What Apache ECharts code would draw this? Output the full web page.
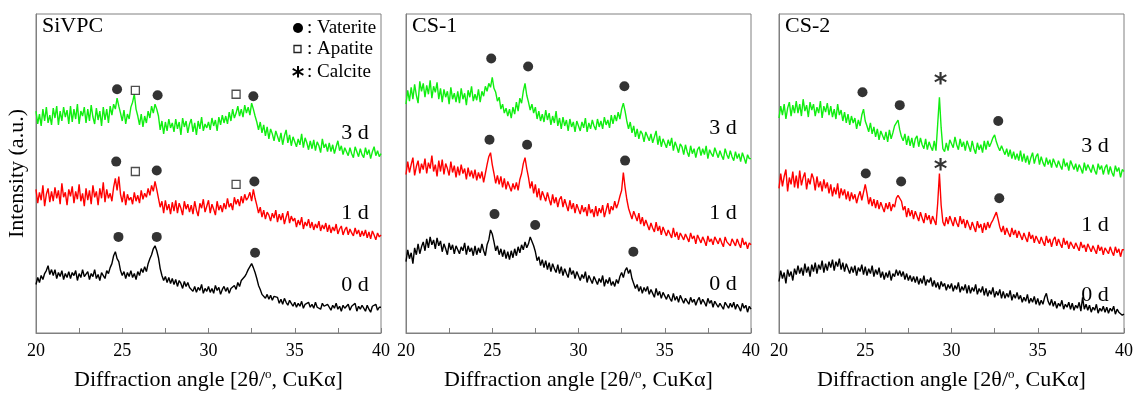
<!DOCTYPE html>
<html>
<head>
<meta charset="utf-8">
<script src="https://cdn.jsdelivr.net/npm/echarts@6/dist/echarts.min.js"></script>
<style>
html, body { margin: 0; padding: 0; background: #fff; }
#chart { width: 1143px; height: 396px; }
</style>
</head>
<body>
<div id="chart"></div>
<script>
// scan grid: 20..40 deg, step 0.1
const angleStart = 20;
const angleStep = 0.1;
const panelNames = ['SiVPC', 'CS-1', 'CS-2'];
const dayNames = ['3 d', '1 d', '0 d'];

// SiVPC
const sivpc3d = [
  224,211,221,209,226,214,228,212,220,210, 227,217,229,210,224,214,228,218,225,211,
  229,213,226,216,231,211,224,219,228,212, 226,214,230,218,211,227,215,224,209,228,
  215,226,212,229,220,231,226,237,229,222, 214,225,211,221,216,228,233,241,226,219,
  210,221,208,219,212,224,217,229,222,231, 226,219,205,214,201,213,204,216,207,212,
  203,216,206,213,200,217,208,214,202,211, 216,203,212,200,214,206,218,204,211,207,
  213,205,217,209,215,204,218,210,220,212, 219,211,223,214,226,217,222,229,219,226,
  218,230,222,228,220,232,226,219,213,205, 213,202,210,199,208,196,206,201,194,204,
  205,193,202,190,199,205,192,200,189,198, 199,188,196,190,201,187,197,192,185,194,
  186,195,184,193,189,182,196,187,191,183, 192,183,190,181,188,194,184,189,180,187,
  189,179,187,181,177,188,183,178,186,180, 177,187,180,185,176,183,188,179,184,178,
  181
];
const sivpc1d = [
  145,131,142,134,149,128,140,146,132,143, 133,147,136,144,130,151,137,142,129,145,
  138,148,131,143,135,150,133,141,128,146, 134,144,130,149,137,143,129,146,136,152,
  132,145,136,141,133,147,156,144,158,140, 132,143,129,140,134,137,130,142,133,139,
  131,144,135,141,137,146,139,149,143,153, 145,136,127,133,121,134,124,130,120,132,
  123,134,121,131,126,119,133,125,130,122, 129,120,133,124,118,131,126,135,122,128,
  134,121,130,125,119,133,124,129,122,131, 125,136,127,131,124,137,130,135,128,138,
  131,140,134,137,142,133,145,136,129,121, 127,117,124,115,122,119,113,121,116,124,
  112,120,114,121,110,117,123,111,118,113, 116,107,114,109,117,105,112,108,115,106,
  112,104,110,106,113,103,109,105,111,102, 109,101,107,103,110,100,105,108,99,104,
  107,99,105,101,98,106,100,104,97,103, 98,104,96,102,95,103,99,94,101,97,
  99
];
const sivpc0d = [
  49,56,51,58,54,60,63,68,59,64, 58,64,55,61,57,63,54,60,56,62,
  55,61,58,63,53,60,56,64,57,59, 62,54,60,57,64,55,59,53,61,58,
  55,63,60,66,70,78,82,75,72,63, 58,62,55,61,57,63,56,60,54,62,
  58,65,61,67,62,70,75,79,85,88, 83,76,65,58,53,57,51,56,50,55,
  49,54,47,53,50,45,52,47,51,46, 48,42,47,41,46,43,49,40,45,42,
  47,41,45,40,48,43,46,39,44,47, 42,46,40,45,43,48,44,51,47,53,
  52,57,60,64,67,70,66,61,55,48, 44,39,41,35,39,34,38,33,37,35,
  36,30,34,29,35,31,28,33,30,27, 31,26,30,27,32,25,29,27,31,26,
  29,25,31,26,28,24,30,27,25,29, 27,23,28,25,30,24,27,22,28,25,
  24,29,23,27,25,30,22,27,24,28, 26,22,28,24,21,27,25,29,23,26,
  26
];

// CS-1
const cs1_3d = [
  231,245,234,248,236,251,240,232,254,244, 252,238,250,241,255,237,249,243,253,236,
  247,233,246,238,244,231,248,236,242,233, 244,232,247,236,242,230,245,238,249,234,
  241,235,246,233,244,239,249,244,252,248, 258,247,243,234,238,226,231,222,227,219,
  226,217,228,221,233,224,237,232,244,252, 240,233,225,231,222,228,216,224,214,221,
  213,225,215,222,210,219,212,224,209,217, 206,218,209,215,204,216,208,213,203,214,
  216,204,213,207,217,203,212,206,215,209, 205,216,208,214,206,218,210,215,207,220,
  211,220,214,223,216,226,232,224,214,206, 213,202,209,198,206,196,204,201,193,203,
  204,194,201,192,198,204,190,199,188,196, 198,187,195,189,197,184,193,188,182,191,
  188,180,190,183,178,189,181,186,177,185, 188,179,186,180,189,176,185,181,178,187,
  185,177,184,179,175,186,180,176,184,178, 174,183,176,181,173,182,177,171,180,176,
  176
];
const cs1_1d = [
  160,173,162,170,177,159,168,174,161,171, 165,176,161,172,166,179,163,170,158,174,
  163,175,160,171,166,159,173,162,169,157, 168,159,170,161,166,155,167,158,164,156,
  165,154,162,156,163,152,161,170,178,182, 170,161,151,159,150,158,147,156,145,153,
  154,143,151,145,152,144,155,161,171,177, 166,157,146,153,141,150,137,146,134,143,
  144,133,142,135,129,140,131,137,127,135, 138,127,135,129,123,134,125,131,121,130,
  131,120,129,122,127,118,130,121,125,117, 128,118,126,121,129,117,124,131,120,128,
  124,133,126,131,138,144,162,147,135,126, 127,115,123,118,113,121,110,117,108,114,
  113,104,111,106,102,112,103,108,99,107, 107,98,104,100,96,106,97,102,94,101,
  103,94,100,96,92,101,95,98,90,99, 100,91,97,93,88,98,92,95,89,97,
  98,90,96,91,87,97,92,94,88,95, 97,88,95,90,86,96,89,92,85,91,
  89
];
const cs1_0d = [
  72,84,75,81,70,86,79,90,80,87, 92,83,95,86,97,89,94,85,96,88,
  93,82,90,85,79,91,84,89,80,88, 90,80,87,83,91,79,88,82,86,78,
  88,79,86,81,90,83,78,89,94,104, 100,92,83,88,79,85,77,84,75,82,
  74,83,76,85,78,87,81,89,84,92, 86,90,97,99,88,82,73,77,68,74,
  66,73,64,71,62,70,65,61,69,60, 67,58,65,60,56,66,59,63,55,62,
  61,53,59,55,62,51,58,54,50,57, 57,49,55,51,58,47,54,50,56,48,
  52,47,54,50,57,61,56,63,66,60, 64,55,50,45,49,42,47,40,46,42,
  47,39,44,40,36,45,38,42,35,41, 41,34,39,35,32,40,33,37,31,38,
  37,30,35,32,29,36,31,34,28,33, 36,29,34,31,27,35,30,33,26,32,
  32,26,30,27,24,31,28,25,30,26, 31,24,29,26,22,30,25,28,21,27,
  24
];

// CS-2
const cs2_3d = [
  217,229,220,231,216,227,233,219,230,222, 234,222,231,219,236,224,230,218,233,225,
  231,219,228,222,234,217,229,223,232,220, 229,218,226,216,231,220,225,214,223,212,
  221,210,219,212,217,206,215,209,220,226, 214,209,203,212,201,208,198,206,195,204,
  206,195,203,193,205,196,202,209,211,215, 205,198,194,201,190,199,189,197,187,196,
  199,188,197,190,186,196,185,193,188,184, 194,184,211,238,207,186,183,192,184,195,
  197,187,198,190,185,196,188,193,184,194, 193,183,194,186,181,192,185,190,182,194,
  185,194,188,192,197,200,193,188,184,189, 190,180,186,178,185,176,183,175,181,174,
  184,173,181,172,179,170,177,182,171,178, 181,170,178,172,168,177,170,175,167,176,
  177,167,174,169,165,176,168,172,164,174, 173,165,171,163,170,166,161,172,164,170,
  172,162,170,164,160,171,165,169,160,167, 170,160,168,162,158,169,163,167,157,165,
  163
];
const cs2_1d = [
  146,161,148,158,165,143,157,150,163,147, 159,146,164,149,157,162,145,156,150,161,
  156,144,158,147,153,143,155,146,152,141, 150,138,147,140,151,136,146,139,145,135,
  143,133,142,135,140,131,138,143,134,142, 150,141,130,137,128,135,126,134,125,132,
  133,122,131,125,132,123,130,127,136,139, 138,133,124,128,117,126,118,124,115,123,
  124,113,122,116,111,121,114,119,110,118, 117,109,131,161,129,112,108,117,110,118,
  118,108,117,111,107,118,110,115,106,114, 113,104,112,107,102,113,106,110,101,111,
  104,112,106,111,114,118,122,115,107,102, 108,99,106,101,97,106,99,104,96,103,
  103,94,101,96,92,102,95,99,91,98, 99,90,97,92,88,98,91,95,87,94,
  97,88,95,90,86,96,89,93,85,92, 93,85,91,87,83,92,86,89,82,90,
  90,82,88,84,80,89,83,87,79,86, 88,80,87,82,78,87,81,85,77,84,
  84
];
const cs2_0d = [
  52,63,55,61,50,64,57,62,53,65, 59,68,60,66,58,70,61,67,57,69,
  62,71,60,69,64,73,61,70,63,72, 66,74,63,72,67,75,64,71,62,70,
  69,60,67,61,68,58,66,62,69,59, 67,58,65,60,68,57,64,59,66,56,
  62,54,61,56,63,53,60,57,64,58, 63,57,62,54,60,53,58,52,57,51,
  57,49,55,50,58,48,54,51,56,47, 53,46,51,44,52,47,50,43,49,45,
  50,42,48,44,51,41,47,43,49,40, 48,40,46,42,49,39,45,41,47,38,
  45,37,43,39,46,36,42,38,44,35, 42,35,40,36,43,33,39,35,41,34,
  38,31,36,32,39,30,35,31,37,29, 35,28,33,29,36,40,32,28,34,27,
  32,25,30,27,33,24,29,26,31,24, 30,23,28,25,31,22,36,24,29,23,
  28,21,26,23,29,20,25,22,27,21, 26,20,25,22,27,19,24,21,23,18,
  19
];

// phase marks per panel: [angle, height]
const vateriteMarks = [
  [[24.7, 246], [27.05, 240], [32.6, 239], [24.65, 173], [27.0, 164], [32.66, 153], [24.78, 97], [27.0, 97], [32.7, 81]],
  [[24.94, 277], [27.08, 269], [32.66, 249], [24.84, 195], [27.02, 190], [32.7, 174], [25.13, 120], [27.49, 109], [33.18, 82]],
  [[24.84, 243], [27.0, 230], [32.71, 214], [25.03, 161], [27.08, 153], [32.77, 136]]
];
const apatiteMarks = [
  [[25.76, 245], [31.6, 241], [25.76, 163], [31.6, 150]],
  [],
  []
];
const calciteMarks = [
  [],
  [],
  [[29.37, 257], [29.37, 170]]
];

const seriesData = [
  [sivpc3d, sivpc1d, sivpc0d],
  [cs1_3d, cs1_1d, cs1_0d],
  [cs2_3d, cs2_1d, cs2_0d]
];
const lineColors = ['#11ee11', '#ff0000', '#000000'];

function toPairs(vals) {
  return vals.map((v, i) => [+(angleStart + i * angleStep).toFixed(1), v]);
}

const FONT = '"Liberation Serif", "Times New Roman", serif';
const gridLefts = [36, 406, 779];
const gridWidth = 345;
const borderCol = '#808080';

var grids = [], xAxes = [], yAxes = [], series = [];
gridLefts.forEach((left, p) => {
  grids.push({
    left: left, top: 14, width: gridWidth, height: 322,
    show: true, borderColor: borderCol, borderWidth: 1
  });
  xAxes.push({
    type: 'value', gridIndex: p, min: 20, max: 40, interval: 5,
    axisLine: { lineStyle: { color: borderCol } },
    axisTick: { inside: true, length: 5, lineStyle: { color: borderCol } },
    minorTick: { show: true, splitNumber: 2, length: 5, lineStyle: { color: borderCol } },
    splitLine: { show: false },
    axisLabel: { margin: 9, fontFamily: FONT, fontSize: 18, color: '#000' },
    name: '{a|Diffraction angle [2θ/}{s|o}{a|, CuKα]}',
    nameLocation: 'middle', nameGap: 35,
    nameTextStyle: {
      rich: {
        a: { fontFamily: FONT, fontSize: 22, color: '#000' },
        s: { fontFamily: FONT, fontSize: 13, color: '#000', padding: [0, 0, 11, 0] }
      }
    }
  });
  yAxes.push({
    type: 'value', gridIndex: p, min: 0, max: 322,
    axisLine: { show: true, lineStyle: { color: borderCol } },
    axisTick: { show: false }, axisLabel: { show: false }, splitLine: { show: false },
    name: p === 0 ? 'Intensity (a.u.)' : '',
    nameLocation: 'middle', nameGap: 8, nameRotate: 90,
    nameTextStyle: { fontFamily: FONT, fontSize: 22, color: '#000' }
  });
  seriesData[p].forEach((vals, k) => {
    series.push({
      type: 'line', xAxisIndex: p, yAxisIndex: p,
      data: toPairs(vals), showSymbol: false, symbol: 'none',
      lineStyle: { color: lineColors[k], width: 1.4 },
      silent: true
    });
  });
  series.push({
    type: 'scatter', xAxisIndex: p, yAxisIndex: p, data: vateriteMarks[p],
    symbol: 'circle', symbolSize: 10, itemStyle: { color: '#000' }, z: 5
  });
  series.push({
    type: 'scatter', xAxisIndex: p, yAxisIndex: p, data: apatiteMarks[p],
    symbol: 'rect', symbolSize: 8,
    itemStyle: { color: '#fff', borderColor: '#222', borderWidth: 1.3 }, z: 5
  });
  series.push({
    type: 'scatter', xAxisIndex: p, yAxisIndex: p, data: calciteMarks[p],
    symbol: 'circle', symbolSize: 1, itemStyle: { color: 'rgba(0,0,0,0)' },
    label: {
      show: true, position: 'inside', formatter: '*', offset: [0, 7],
      fontFamily: 'DejaVu Sans', fontSize: 26, fontWeight: 'bold', color: '#000'
    }, z: 5
  });
});

// panel titles, day labels and the phase key
const dayLabelPos = [
  [[355, 133], [355, 213], [355, 285]],
  [[723, 128], [723, 213], [723, 284]],
  [[1095, 146], [1095, 225], [1095, 295]]
];
var graphics = [];
panelNames.forEach((name, p) => {
  graphics.push({
    type: 'text', left: gridLefts[p] + 6, top: 15,
    style: { text: name, font: '22px ' + FONT, fill: '#000' }
  });
  dayNames.forEach((d, k) => {
    graphics.push({
      type: 'text', x: dayLabelPos[p][k][0], y: dayLabelPos[p][k][1],
      style: { text: d, font: '22px ' + FONT, fill: '#000', textAlign: 'center', textVerticalAlign: 'middle' }
    });
  });
});
graphics.push(
  { type: 'circle', shape: { cx: 298, cy: 28, r: 5 }, style: { fill: '#000' } },
  { type: 'rect', shape: { x: 294, y: 45.5, width: 7, height: 7 }, style: { fill: '#fff', stroke: '#222', lineWidth: 1.3 } },
  { type: 'text', x: 298, y: 78, style: { text: '*', font: 'bold 24px DejaVu Sans', fill: '#000', textAlign: 'center', textVerticalAlign: 'middle' } },
  { type: 'text', x: 307, y: 28, style: { text: ': Vaterite', font: '19px ' + FONT, fill: '#000', textVerticalAlign: 'middle' } },
  { type: 'text', x: 307, y: 49, style: { text: ': Apatite', font: '19px ' + FONT, fill: '#000', textVerticalAlign: 'middle' } },
  { type: 'text', x: 307, y: 72, style: { text: ': Calcite', font: '19px ' + FONT, fill: '#000', textVerticalAlign: 'middle' } }
);

var chart = echarts.init(document.getElementById('chart'));
chart.setOption({
  animation: false,
  backgroundColor: '#fff',
  grid: grids,
  xAxis: xAxes,
  yAxis: yAxes,
  series: series,
  graphic: graphics
});
</script>
</body>
</html>
